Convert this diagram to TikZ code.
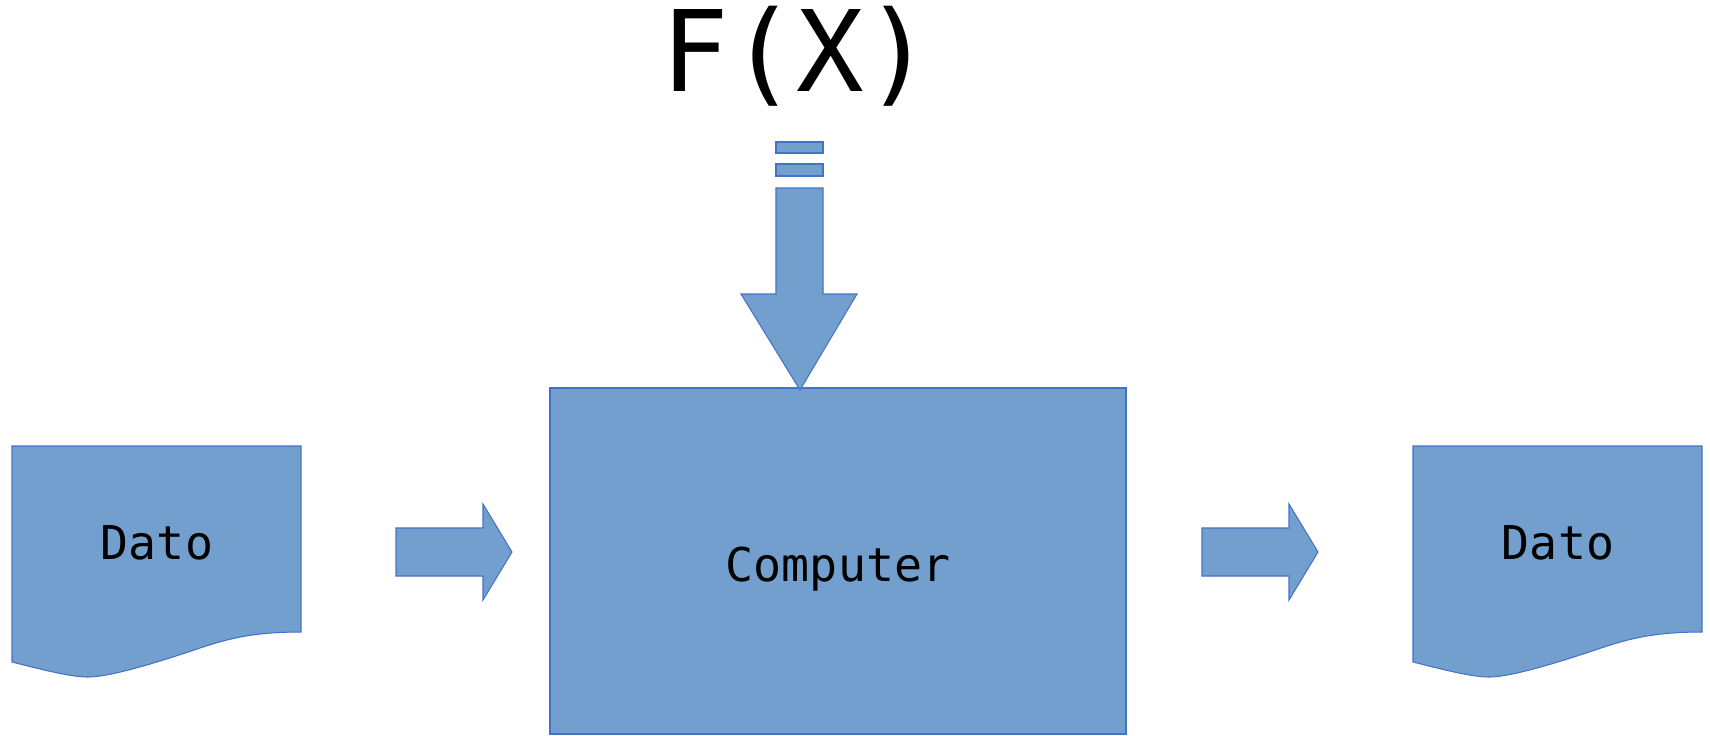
\documentclass[tikz,border=0pt]{standalone}
\usepackage{fontspec}
\setmonofont{DejaVu Sans Mono}
\definecolor{blokfill}{RGB}{114,159,206}
\definecolor{blokline}{RGB}{68,114,196}
\tikzset{
  blok/.style={fill=blokfill,draw=blokline,line width=0.6pt,line join=miter},
  tekst/.style={font=\ttfamily\fontsize{26.5}{30}\selectfont,anchor=base,inner sep=0pt}
}
\begin{document}
\begin{tikzpicture}[x=0.02cm,y=-0.02cm]
            \useasboundingbox (0,0) rectangle (1710,735);
            % dokumenter
            \foreach \dx in {0,1401}
              \draw[blok,shift={(\dx,0)}] (12,446) -- (301,446) -- (301,632)
                .. controls (255,632) and (230,638) .. (200,648)
                .. controls (150,665) and (108,677) .. (88,677)
                .. controls (70,677) and (40,669) .. (12,662) -- cycle;
            % computer
            \draw[blok] (550,388) rectangle (1126,734);
            % pile
            \draw[blok] (396,528) -- (483,528) -- (483,504) -- (512,552) -- (483,600) -- (483,576) -- (396,576) -- cycle;
            \draw[blok] (1202,528) -- (1289,528) -- (1289,504) -- (1318,552) -- (1289,600) -- (1289,576) -- (1202,576) -- cycle;
            \draw[blok] (776,142) rectangle (823,153);
            \draw[blok] (776,164) rectangle (823,176);
            \draw[blok] (776,188) -- (823,188) -- (823,294) -- (857,294) -- (800,390) -- (741,294) -- (776,294) -- cycle;
            % tekster
            \node[tekst] (datoind) at (157,559) {Dato};
            \node[tekst] (datoud) at (1558,559) {Dato};
            \node[tekst] (comp) at (838,581) {Computer};
            \node[tekst,font=\ttfamily\fontsize{64}{70}\selectfont] (fx) at (797,91) {F(X)};
        \end{tikzpicture}
\end{document}
